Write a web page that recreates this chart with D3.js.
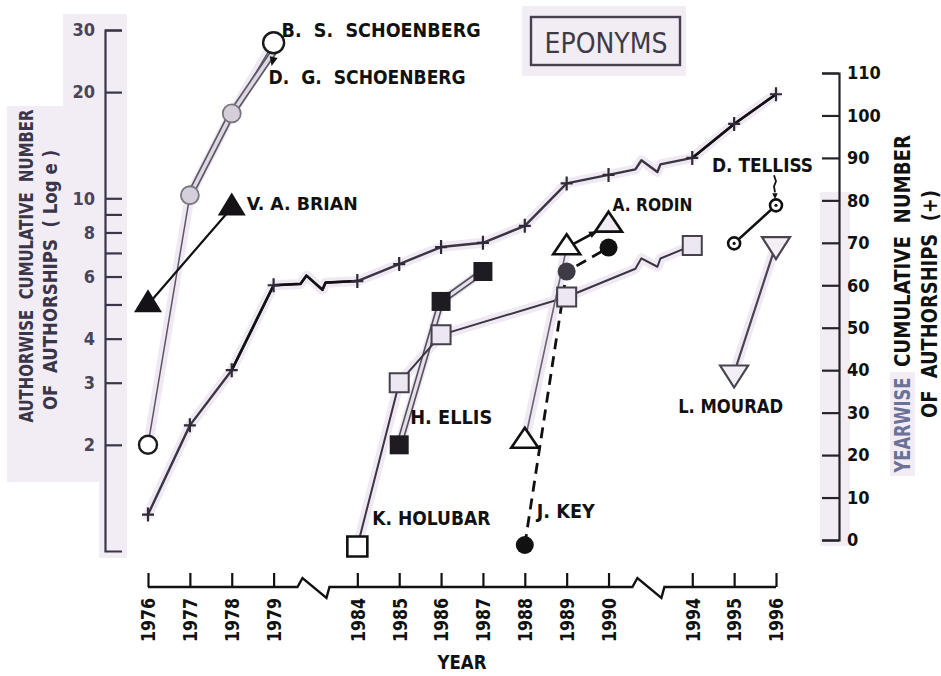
<!DOCTYPE html>
<html><head><meta charset="utf-8">
<script src="https://cdn.jsdelivr.net/npm/d3@7"></script>
<style>body{margin:0;background:#fff}svg{display:block}text{white-space:pre}</style>
</head><body><svg id="c" width="941" height="676"></svg>
<script>
// ---------- DATA ----------
const xSlots = ["1976","1977","1978","1979","brk1","1984","1985","1986","1987","1988","1989","1990","brk2","1994","1995","1996"];
const years = ["1976","1977","1978","1979","1984","1985","1986","1987","1988","1989","1990","1994","1995","1996"];
const breakSlots = ["brk1","brk2"];
const yearwiseTotals = [6,27,40,60,61,65,69,70,74,84,86,90,98,105];
const leftTicks = [2,3,4,5,6,7,8,9,10,20,30];
const leftTickLabels = ["2","3","4","","6","","8","","10","20","30"];
const rightTicks = [0,10,20,30,40,50,60,70,80,90,100,110];

const bsSchoenbergYears = ["1976","1977","1978","1979"];
const bsSchoenbergValues = [2.0,10.2,17.4,27.6];
const dgSchoenbergYears = ["1977","1978","1979"];
const dgSchoenbergValues = [10.2,17.4,26.0];
const brianYears = ["1976","1978"];
const brianValues = [5.0,9.4];
const holubarYears = ["1984","1985","1986","1989","1994"];
const holubarValues = [1.03,3.0,4.1,5.25,7.35];
const ellisYears = ["1985","1986","1987"];
const ellisValues = [2.0,5.1,6.2];
const keyYears = ["1988","1989","1990"];
const keyValues = [1.04,6.2,7.25];
const rodinYears = ["1988","1989","1990"];
const rodinValues = [2.05,7.25,8.4];
const tellissYears = ["1995","1996"];
const tellissValues = [7.45,9.55];
const mouradYears = ["1995","1996"];
const mouradValues = [3.2,7.4];

// ---------- SETUP ----------
const FONT = "'DejaVu Sans Condensed','DejaVu Sans',sans-serif";
const svg = d3.select("#c");
const x = d3.scalePoint().domain(xSlots).range([148,776]);
const yL = d3.scaleLog().domain([1,30]).range([551,30]);
const yR = d3.scaleLinear().domain([0,110]).range([540,73]);
const AXIS_Y = 587;
const pts = (ys, vs, sc) => ys.map((yr,i)=>[x(yr), sc(vs[i])]);

function brokenPath(p){
  const bxs = breakSlots.map(b=>x(b));
  let d = `M${p[0][0]},${p[0][1]}`;
  for(let i=1;i<p.length;i++){
    const a=p[i-1], b=p[i];
    bxs.forEach(bx=>{
      if(a[0]<bx && bx<b[0]){
        const yAt = xx => a[1]+(b[1]-a[1])*(xx-a[0])/(b[0]-a[0]);
        d += `L${bx-15},${yAt(bx-15)}L${bx-9},${yAt(bx-9)-8}L${bx+7},${yAt(bx+7)+7}L${bx+10},${yAt(bx+10)}`;
      }
    });
    d += `L${b[0]},${b[1]}`;
  }
  return d;
}

// ---------- BACKGROUND TINTS ----------
const bg = svg.append("g").attr("fill","#f2ecf5");
bg.append("path").attr("d","M63,14H127V558H99V482H7V106H63Z");
bg.append("rect").attr("x",820).attr("y",192).attr("width",30).attr("height",354);
bg.append("rect").attr("x",890).attr("y",372).attr("width",25).attr("height",104);
bg.append("rect").attr("x",522).attr("y",6).attr("width",164).attr("height",70);

// ---------- LINES ----------
const halo = svg.append("g").attr("fill","none").attr("stroke","#f0e9f4").attr("stroke-width",10).attr("stroke-linecap","round").attr("stroke-linejoin","round");
const lines = svg.append("g").attr("fill","none").attr("stroke-linejoin","round").attr("stroke-linecap","round");

const Pyear = pts(years, yearwiseTotals, yR);
const Pbs = pts(bsSchoenbergYears, bsSchoenbergValues, yL);
const Pdg = pts(dgSchoenbergYears, dgSchoenbergValues, yL);
const Pbr = pts(brianYears, brianValues, yL);
const Pho = pts(holubarYears, holubarValues, yL);
const Pel = pts(ellisYears, ellisValues, yL);
const Pke = pts(keyYears, keyValues, yL);
const Pro = pts(rodinYears, rodinValues, yL);
const Pte = pts(tellissYears, tellissValues, yL);
const Pmo = pts(mouradYears, mouradValues, yL);

[Pyear, Pbs, Pho, Pel, Pro.slice(0,2), Pmo].forEach(p=>halo.append("path").attr("d",brokenPath(p)));

lines.append("path").attr("d",brokenPath(Pyear)).attr("stroke","#3b3542").attr("stroke-width",2.4);
// darker stretches of the yearwise line
lines.append("path").attr("d",brokenPath(Pyear.slice(2,5))).attr("stroke","#111").attr("stroke-width",2.6);
lines.append("path").attr("d",brokenPath(Pyear.slice(11))).attr("stroke","#111").attr("stroke-width",2.6);
lines.append("path").attr("d",brokenPath(Pbs)).attr("stroke","#5d5763").attr("stroke-width",1.5);
lines.append("path").attr("d",brokenPath(Pdg)).attr("stroke","#5d5763").attr("stroke-width",7);
lines.append("path").attr("d",brokenPath(Pdg)).attr("stroke","#ddd7e2").attr("stroke-width",3.6);
lines.append("path").attr("d",brokenPath(Pbr)).attr("stroke","#111").attr("stroke-width",2.2);
lines.append("path").attr("d",brokenPath(Pel)).attr("stroke","#55505b").attr("stroke-width",6.5);
lines.append("path").attr("d",brokenPath(Pel)).attr("stroke","#e4dfe8").attr("stroke-width",3.2);
lines.append("path").attr("d",brokenPath(Pho)).attr("stroke","#3a3540").attr("stroke-width",2);
lines.append("path").attr("d",brokenPath(Pro.slice(0,2))).attr("stroke","#6a6470").attr("stroke-width",1.6);
lines.append("path").attr("d",brokenPath(Pro.slice(1))).attr("stroke","#111").attr("stroke-width",2.6);
lines.append("path").attr("d",brokenPath(Pke)).attr("stroke","#111").attr("stroke-width",2.8).attr("stroke-dasharray","11,7").attr("stroke-linecap","butt");
lines.append("path").attr("d",brokenPath(Pte)).attr("stroke","#111").attr("stroke-width",2.6);
lines.append("path").attr("d",brokenPath(Pmo)).attr("stroke","#4a4450").attr("stroke-width",2.2);

// arrowheads
function arrowHead(a, b, back, size){
  const dx=b[0]-a[0], dy=b[1]-a[1], L=Math.hypot(dx,dy), ux=dx/L, uy=dy/L;
  const tx=b[0]-ux*back, ty=b[1]-uy*back;
  const bx=tx-ux*size, by=ty-uy*size;
  svg.append("path").attr("fill","#111")
    .attr("d",`M${tx},${ty}L${bx-uy*size*0.45},${by+ux*size*0.45}L${bx+uy*size*0.45},${by-ux*size*0.45}Z`);
}
arrowHead(Pro[1], Pro[2], 13, 8);

// ---------- MARKERS ----------
const mk = svg.append("g");
function tri(p,w,h,up){
  const [cx,cy]=p;
  return up ? `M${cx},${cy-2*h/3}L${cx+w/2},${cy+h/3}L${cx-w/2},${cy+h/3}Z`
            : `M${cx},${cy+2*h/3}L${cx+w/2},${cy-h/3}L${cx-w/2},${cy-h/3}Z`;
}
function sq(p,s){return `M${p[0]-s/2},${p[1]-s/2}h${s}v${s}h${-s}Z`;}

Pyear.forEach(p=>{
  mk.append("path").attr("d",`M${p[0]-6},${p[1]}h12M${p[0]},${p[1]-7}v14`).attr("stroke","#2f2a35").attr("stroke-width",2.2);
});
Pbs.forEach((p,i)=>{
  const inner = i===1||i===2;
  mk.append("circle").attr("cx",p[0]).attr("cy",p[1]).attr("r",i===3?10.5:9)
    .attr("fill",inner?"#d5cfda":"#fff").attr("stroke",inner?"#7a7480":"#1a1a1a").attr("stroke-width",inner?1.8:2.4);
});
arrowHead([Pdg[2][0]+6,Pdg[2][1]-20],[Pdg[2][0]-2,Pdg[2][1]+14],0,9);
Pbr.forEach(p=>mk.append("path").attr("d",tri(p,28,23,true)).attr("fill","#141216"));
Pel.forEach(p=>mk.append("path").attr("d",sq(p,19)).attr("fill","#1e1c22"));
Pho.forEach((p,i)=>mk.append("path").attr("d",sq(p,i===0?20:19))
  .attr("fill",i===0?"#fff":"#ece7f0").attr("stroke",i===0?"#111":"#45404b").attr("stroke-width",i===0?2.6:2));
Pke.forEach((p,i)=>mk.append("circle").attr("cx",p[0]).attr("cy",p[1]).attr("r",9).attr("fill",i===1?"#3e3a46":"#111"));
Pro.forEach((p,i)=>mk.append("path").attr("d",tri(p,27,20,true)).attr("fill",i===2?"#f2ecf5":"#fff").attr("stroke","#111").attr("stroke-width",2.6));
Pte.forEach(p=>{
  mk.append("circle").attr("cx",p[0]).attr("cy",p[1]).attr("r",6).attr("fill","#fff").attr("stroke","#111").attr("stroke-width",2.6);
  mk.append("circle").attr("cx",p[0]).attr("cy",p[1]).attr("r",1.6).attr("fill","#111");
});
Pmo.forEach(p=>mk.append("path").attr("d",tri(p,28,22,false)).attr("fill","#f4eff6").attr("stroke","#4a4450").attr("stroke-width",2.2));
mk.append("path").attr("d",`M${Pte[1][0]-2},${Pte[1][1]-30}l2,6l-2,5l1,6`).attr("fill","none").attr("stroke","#111").attr("stroke-width",1.8);
arrowHead([Pte[1][0]-1,Pte[1][1]-20],[Pte[1][0]-1,Pte[1][1]-6],0,6);

// ---------- AXES ----------
const leftAxis = d3.axisLeft(yL).tickValues(leftTicks).tickFormat((d,i)=>leftTickLabels[i])
  .tickSize(-17).tickSizeOuter(-17).tickPadding(10);
const gl = svg.append("g").attr("transform","translate(105,0)").call(leftAxis);
gl.selectAll("path,line").attr("stroke","#3a3548").attr("stroke-width",2.2);
gl.selectAll("text").attr("font-family",FONT).attr("font-weight","bold").attr("font-size",18).attr("fill","#4a4458");

const rightAxis = d3.axisRight(yR).tickValues(rightTicks).tickSize(-17).tickSizeOuter(-17).tickPadding(8);
const gr = svg.append("g").attr("transform","translate(839,0)").call(rightAxis);
gr.selectAll("path,line").attr("stroke","#26222b").attr("stroke-width",2.2);
gr.selectAll("text").attr("font-family",FONT).attr("font-weight","bold").attr("font-size",18).attr("fill","#111");

const xAxis = d3.axisBottom(x).tickValues(years).tickSize(-14).tickPadding(11);
const gx = svg.append("g").attr("transform",`translate(0,${AXIS_Y})`).call(xAxis);
gx.select(".domain").remove();
gx.selectAll("line").attr("stroke","#111").attr("stroke-width",2.2);
gx.selectAll("text").attr("y",0).attr("x",-11).attr("dy","0.36em").attr("transform","rotate(-90)")
  .style("text-anchor","end").attr("font-family",FONT).attr("font-weight","bold").attr("font-size",19)
  .attr("textLength",44).attr("lengthAdjust","spacingAndGlyphs").attr("fill","#111");
const b1 = x(breakSlots[0]), b2 = x(breakSlots[1]);
const basePts = [[x(years[0]),0],[b1-18,0],[b1-13,-9],[b1+11,11],[b1+14,0],[b2-18,0],[b2-13,-9],[b2+11,11],[b2+14,0],[x(years[years.length-1]),0]];
gx.append("path").attr("d",d3.line()(basePts)).attr("fill","none").attr("stroke","#111").attr("stroke-width",2.4).attr("stroke-linejoin","miter");

// ---------- TEXT ----------
function txt(s, px, py, o={}){
  const t = svg.append("text").attr("x",px).attr("y",py).text(s)
    .attr("font-family",FONT).attr("font-weight",o.weight||"bold").attr("font-size",o.size||20)
    .attr("fill",o.fill||"#111").attr("text-anchor",o.anchor||"start");
  if(o.len) t.attr("textLength",o.len).attr("lengthAdjust","spacingAndGlyphs");
  if(o.rot){ t.attr("x",0).attr("y",0).attr("dy","0.36em").attr("transform",`translate(${px},${py}) rotate(-90)`); }
  return t;
}
txt("B.  S.  SCHOENBERG", Pbs[3][0]+8, Pbs[3][1]-6, {len:199});
txt("D.  G.  SCHOENBERG", Pdg[2][0]-5, Pdg[2][1]+32, {len:197});
txt("V. A. BRIAN", Pbr[1][0]+15, Pbr[1][1]+2, {len:111, size:18});
txt("A. RODIN", Pro[2][0]+4, Pro[2][1]-14, {len:80, size:18});
txt("D. TELLISS", Pte[1][0]-64, Pte[1][1]-33, {len:101});
txt("H. ELLIS", Pel[0][0]+11, Pel[0][1]-21, {len:82});
txt("K. HOLUBAR", Pho[0][0]+15, Pho[0][1]-21, {len:118});
txt("J. KEY", Pke[0][0]+12, Pke[0][1]-27, {len:58});
txt("L. MOURAD", Pmo[0][0]-56, Pmo[0][1]+40, {len:105});

svg.append("rect").attr("x",531).attr("y",17).attr("width",149).attr("height",48)
  .attr("fill","none").attr("stroke","#47414f").attr("stroke-width",2.4);
txt("EPONYMS", 606, 53, {anchor:"middle", weight:"normal", size:28, len:123, fill:"#3f3a47"});

txt("YEAR", 462, 669, {anchor:"middle", len:49, size:19});
txt("AUTHORWISE  CUMULATIVE  NUMBER", 25.5, 266, {rot:true, anchor:"middle", len:313, fill:"#3a3548"});
txt("OF  AUTHORSHIPS  ( Log e )", 49.5, 280, {rot:true, anchor:"middle", len:260, fill:"#3a3548"});
txt("CUMULATIVE  NUMBER", 902, 251, {rot:true, anchor:"middle", len:232, size:21});
txt("YEARWISE", 902, 425, {rot:true, anchor:"middle", len:95, size:21, fill:"#6c7197"});
txt("OF  AUTHORSHIPS  (+)", 929, 304, {rot:true, anchor:"middle", len:228, size:21});
</script></body></html>
